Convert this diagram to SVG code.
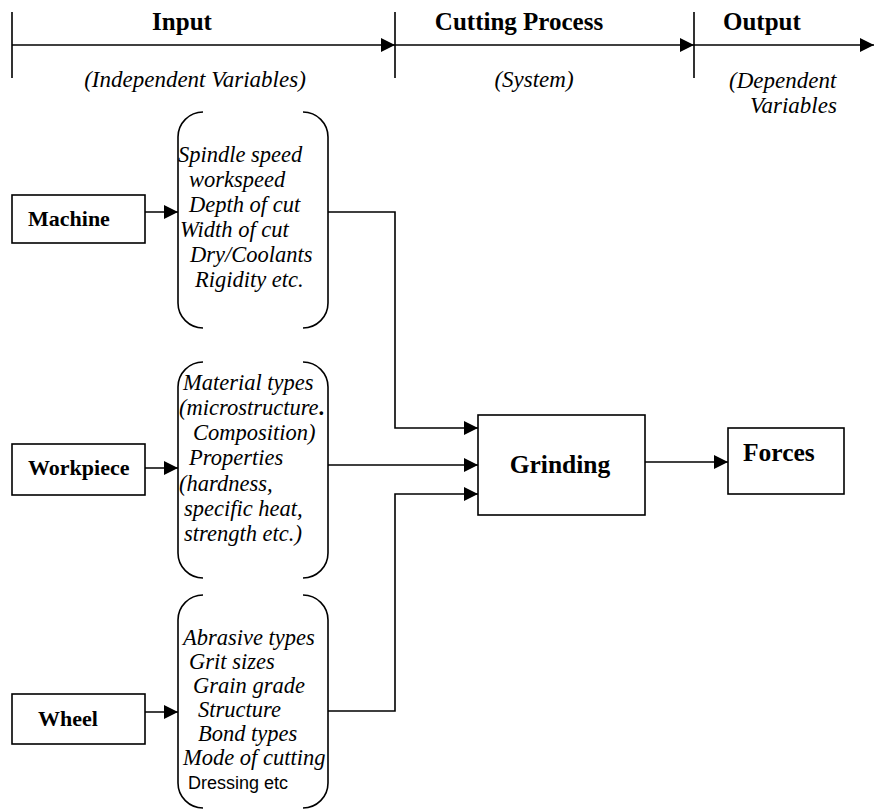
<svg xmlns="http://www.w3.org/2000/svg" width="874" height="809" viewBox="0 0 874 809">
<style>
.ln{fill:none;stroke:#000;stroke-width:1.6}
.box{fill:#fff;stroke:#000;stroke-width:1.6}
.hd{font-family:"Liberation Serif","Times New Roman",serif;font-weight:bold;font-size:25px;fill:#000}
.hi{font-family:"Liberation Serif","Times New Roman",serif;font-style:italic;font-size:23px;fill:#000}
.lb{font-family:"Liberation Serif","Times New Roman",serif;font-weight:bold;font-size:22px;fill:#000}
.big{font-family:"Liberation Serif","Times New Roman",serif;font-weight:bold;font-size:25.5px;fill:#000}
.it{font-family:"Liberation Serif","Times New Roman",serif;font-style:italic;font-size:22.5px;fill:#000}
.rg{font-family:"Liberation Sans",Arial,sans-serif;font-size:18px;fill:#000}
</style>
<defs>
<marker id="ah" markerUnits="userSpaceOnUse" markerWidth="14" markerHeight="14" refX="14" refY="7" orient="auto">
<path d="M0,0 L14,7 L0,14 z" fill="#000"/>
</marker>
</defs>
<rect width="874" height="809" fill="#fff"/>

<g id="header">
<path class="ln" d="M12 12 V78 M395 12 V78 M694 12 V78"/>
<path class="ln" d="M12 45 H395" marker-end="url(#ah)"/>
<path class="ln" d="M395 45 H694" marker-end="url(#ah)"/>
<path class="ln" d="M694 45 H874" marker-end="url(#ah)"/>
<text class="hd" x="182" y="30" text-anchor="middle">Input</text>
<text class="hd" x="519" y="30" text-anchor="middle">Cutting Process</text>
<text class="hd" x="723" y="30">Output</text>
<text class="hi" x="195" y="87" text-anchor="middle">(Independent Variables)</text>
<text class="hi" x="534" y="87" text-anchor="middle">(System)</text>
<text class="hi" x="729" y="88">(Dependent</text>
<text class="hi" x="750" y="113">Variables</text>
</g>

<g id="machine">
<rect class="box" x="12" y="195" width="133" height="48"/>
<text class="lb" x="28" y="226">Machine</text>
</g>
<g id="workpiece">
<rect class="box" x="12" y="444" width="133" height="51"/>
<text class="lb" x="28" y="475">Workpiece</text>
</g>
<g id="wheel">
<rect class="box" x="12" y="694" width="133" height="50"/>
<text class="lb" x="38" y="726">Wheel</text>
</g>

<g id="machine-params">
<path class="ln" d="M203 112 A25 25 0 0 0 178 137 V303 A25 25 0 0 0 203 328 M303 112 A25 25 0 0 1 328 137 V303 A25 25 0 0 1 303 328"/>
<text class="it" x="178" y="162">Spindle speed</text>
<text class="it" x="189" y="187">workspeed</text>
<text class="it" x="189" y="212">Depth of cut</text>
<text class="it" x="180" y="237">Width of cut</text>
<text class="it" x="190" y="262">Dry/Coolants</text>
<text class="it" x="195" y="287">Rigidity etc.</text>
</g>

<g id="workpiece-params">
<path class="ln" d="M203 362 A25 25 0 0 0 178 387 V553 A25 25 0 0 0 203 578 M303 362 A25 25 0 0 1 328 387 V553 A25 25 0 0 1 303 578"/>
<text class="it" x="183" y="390">Material types</text>
<text class="it" x="179" y="415">(microstructure<tspan font-weight="bold" font-style="normal">.</tspan></text>
<text class="it" x="193" y="440">Composition)</text>
<text class="it" x="189" y="465">Properties</text>
<text class="it" x="179" y="491">(hardness,</text>
<text class="it" x="184" y="516">specific heat,</text>
<text class="it" x="184" y="541">strength etc.)</text>
</g>

<g id="wheel-params">
<path class="ln" d="M203 595 A25 25 0 0 0 178 620 V783 A25 25 0 0 0 203 808 M303 595 A25 25 0 0 1 328 620 V783 A25 25 0 0 1 303 808"/>
<text class="it" x="183" y="645">Abrasive types</text>
<text class="it" x="189" y="669">Grit sizes</text>
<text class="it" x="193" y="693">Grain grade</text>
<text class="it" x="198" y="717">Structure</text>
<text class="it" x="198" y="741">Bond types</text>
<text class="it" x="183" y="765">Mode of cutting</text>
<text class="rg" x="188" y="789">Dressing etc</text>
</g>

<g id="grinding">
<rect class="box" x="478" y="415" width="167" height="100"/>
<text class="big" x="560" y="473" text-anchor="middle">Grinding</text>
</g>
<g id="forces">
<rect class="box" x="728" y="428" width="116" height="66"/>
<text class="big" x="743" y="461">Forces</text>
</g>

<g id="connectors">
<path class="ln" d="M145 212 H178" marker-end="url(#ah)"/>
<path class="ln" d="M145 468 H178" marker-end="url(#ah)"/>
<path class="ln" d="M145 712 H178" marker-end="url(#ah)"/>
<path class="ln" d="M328 212 H395 V428 H478" marker-end="url(#ah)"/>
<path class="ln" d="M328 465 H478" marker-end="url(#ah)"/>
<path class="ln" d="M328 711 H395 V494 H478" marker-end="url(#ah)"/>
<path class="ln" d="M645 462 H728" marker-end="url(#ah)"/>
</g>
</svg>
